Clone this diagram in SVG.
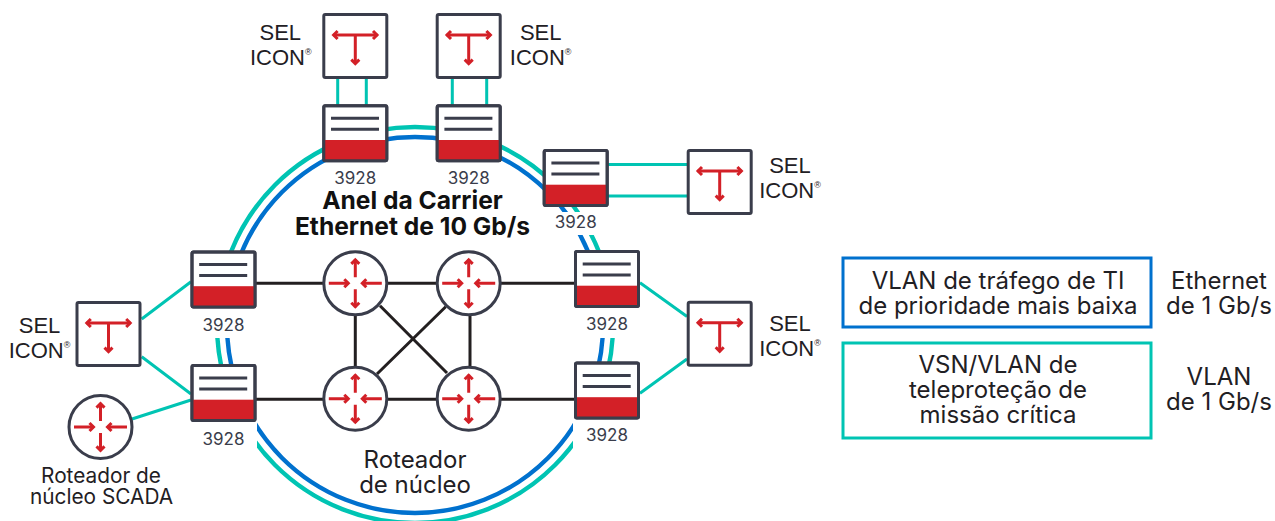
<svg xmlns="http://www.w3.org/2000/svg" width="1275" height="521" viewBox="0 0 1275 521">
<style>
text{font-family:"Inter","Liberation Sans",sans-serif;fill:#1f2024;text-anchor:middle}
.sel{font-family:"Liberation Sans",Arial,sans-serif;font-size:22px}
.sel tspan{font-size:9px}
.num{font-size:17px;fill:#3a3d4b}
.lab{font-size:24px}
.small{font-size:20.800px}
.bold{font-size:24.600px;font-weight:700;fill:#111}
.box{fill:#fff;stroke:#3a3d4b;stroke-width:3;stroke-linejoin:round}
.dk{fill:none;stroke:#3a3d4b;stroke-width:3}
.red{fill:none;stroke:#d32027;stroke-width:3}
.blue{fill:none;stroke:#0071ce;stroke-width:4.4}
.teal{fill:none;stroke:#00c4b3;stroke-width:4.4}
.tl{fill:none;stroke:#00c4b3;stroke-width:3}
.bk{fill:none;stroke:#231f20;stroke-width:3}
</style>
<defs>
<clipPath id="ring">
<rect x="0" y="100" width="1275" height="112"/>
<rect x="0" y="100" width="415" height="152"/>
<rect x="415" y="235" width="400" height="17"/>
<rect x="0" y="338" width="1275" height="27"/>
<rect x="257" y="420" width="316" height="101"/>
</clipPath>
<g id="switch">
<rect class="box" x="1.500" y="1.500" width="63" height="55" rx="1.500"/>
<rect x="1.500" y="35.700" width="63" height="20.800" fill="#d32027"/>
<rect x="1.500" y="1.500" width="63" height="55" rx="1.500" fill="none" stroke="#3a3d4b" stroke-width="3"/>
<path class="dk" d="M8.700 14H56.700M8.700 25H56.700"/>
</g>
<g id="icon-t">
<rect class="box" x="-31.500" y="-31.500" width="63" height="63" rx="1.500"/>
<path class="red" d="M-22 -11H22M0 -11V17"/>
<path class="red" d="M-17.700 -15L-21.700 -11L-17.700 -7M17.700 -15L21.700 -11L17.700 -7M-4 13.600L0 17.600L4 13.600"/>
</g>
<g id="icon-r">
<circle class="box" r="31.500"/>
<path class="red" d="M-26.500 0H-7M26.500 0H7M0 -6V-24M0 6V24"/>
<path class="red" d="M-11 -4L-7 0L-11 4M11 -4L7 0L11 4M-4 -19.400L0 -23.400L4 -19.400M-4 19.400L0 23.400L4 19.400"/>
</g>
</defs>

<g id="connectors">
<g clip-path="url(#ring)">
<circle class="teal" cx="415" cy="325" r="198"/>
<circle class="blue" cx="415" cy="325" r="188"/>
</g>
<path class="tl" d="M337.700 78V105M366.300 78V105M452.300 78V105M486.700 78V105M608 164.500H687M608 196H687M640 282.700L687 316.500M640 393.300L687 359M141.700 319L191 281.700M141.700 356.700L191 394M132 419L191 400"/>
<path class="bk" d="M256 283.300H574M256 399.300H574M355.300 283.300V399.300M470 283.300V399.300M380 305.700L447 373M445.700 306.700L377 374"/>
</g>

<g id="icon-1" transform="translate(355.300 46)"><use href="#icon-t"/><text class="sel" x="-75" y="-6">SEL</text><text class="sel" x="-74.500" y="19">ICON<tspan dy="-10">®</tspan></text></g>
<g id="icon-2" transform="translate(468.700 46)"><use href="#icon-t"/><text class="sel" x="72" y="-6">SEL</text><text class="sel" x="72" y="19">ICON<tspan dy="-10">®</tspan></text></g>
<g id="icon-3" transform="translate(719.700 182)"><use href="#icon-t"/><text class="sel" x="70.300" y="-8.700">SEL</text><text class="sel" x="70.300" y="16.300">ICON<tspan dy="-10">®</tspan></text></g>
<g id="icon-4" transform="translate(719.700 333.700)"><use href="#icon-t"/><text class="sel" x="70.300" y="-3">SEL</text><text class="sel" x="70.300" y="22">ICON<tspan dy="-10">®</tspan></text></g>
<g id="icon-5" transform="translate(108.500 334)"><use href="#icon-t"/><text class="sel" x="-69" y="-1.300">SEL</text><text class="sel" x="-69" y="23.700">ICON<tspan dy="-10">®</tspan></text></g>

<g id="sw-1" transform="translate(322.300 104.300)"><use href="#switch"/><text class="num" x="33" y="80">3928</text></g>
<g id="sw-2" transform="translate(435.700 104.300)"><use href="#switch"/><text class="num" x="33" y="80">3928</text></g>
<g id="sw-3" transform="translate(542.700 149)"><use href="#switch"/><text class="num" x="33" y="78.700">3928</text></g>
<g id="sw-4" transform="translate(574 250)"><use href="#switch"/><text class="num" x="33" y="80">3928</text></g>
<g id="sw-5" transform="translate(574 361.500)"><use href="#switch"/><text class="num" x="33" y="79.500">3928</text></g>
<g id="sw-6" transform="translate(190.500 250.500)"><use href="#switch"/><text class="num" x="33" y="80.500">3928</text></g>
<g id="sw-7" transform="translate(190.500 364)"><use href="#switch"/><text class="num" x="33" y="81">3928</text></g>

<g id="router-1" transform="translate(355.300 283.300)"><use href="#icon-r"/></g>
<g id="router-2" transform="translate(468.700 283.300)"><use href="#icon-r"/></g>
<g id="router-3" transform="translate(355.300 398.700)"><use href="#icon-r"/></g>
<g id="router-4" transform="translate(468.700 398.700)"><use href="#icon-r"/></g>
<g id="router-scada" transform="translate(100.500 427)"><use href="#icon-r"/><text class="small" x="0.500" y="56">Roteador de</text><text class="small" x="1" y="77">núcleo SCADA</text></g>

<g id="ring-label"><text class="bold" x="412.500" y="209">Anel da Carrier</text><text class="bold" x="412.500" y="235">Ethernet de 10 Gb/s</text></g>
<g id="core-label"><text class="lab" x="415" y="468">Roteador</text><text class="lab" x="415" y="493">de núcleo</text></g>

<g id="legend-blue"><rect x="843" y="258" width="308" height="69" fill="#fff" stroke="#0071ce" stroke-width="3"/><text class="lab" x="998" y="289">VLAN de tráfego de TI</text><text class="lab" x="998" y="314">de prioridade mais baixa</text><text class="lab" x="1219" y="289">Ethernet</text><text class="lab" x="1219" y="314">de 1 Gb/s</text></g>
<g id="legend-teal"><rect x="843" y="343" width="308" height="95" fill="#fff" stroke="#00c4b3" stroke-width="3"/><text class="lab" x="998" y="373">VSN/VLAN de</text><text class="lab" x="998" y="398">teleproteção de</text><text class="lab" x="998" y="423">missão crítica</text><text class="lab" x="1219" y="385">VLAN</text><text class="lab" x="1219" y="410">de 1 Gb/s</text></g>
</svg>
